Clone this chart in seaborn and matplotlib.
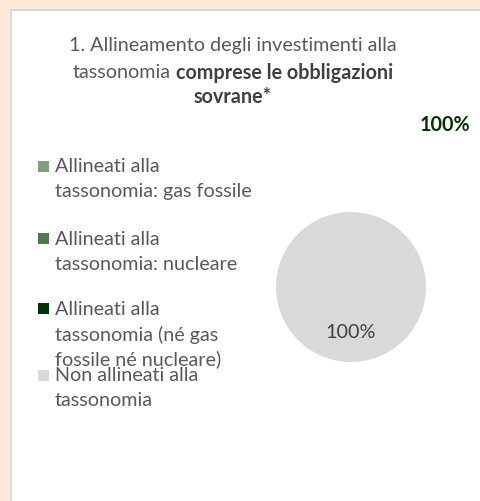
import matplotlib
matplotlib.use("Agg")
import matplotlib.pyplot as plt
from matplotlib.patches import Rectangle
import seaborn as sns

# Portfolio breakdown (percent of investments), sovereign bonds included
categories = [
    "Allineati alla tassonomia: gas fossile",
    "Allineati alla tassonomia: nucleare",
    "Allineati alla tassonomia (né gas fossile né nucleare)",
    "Non allineati alla tassonomia",
]
legend_lines = [
    ["Allineati alla", "tassonomia: gas fossile"],
    ["Allineati alla", "tassonomia: nucleare"],
    ["Allineati alla", "tassonomia (né gas", "fossile né nucleare)"],
    ["Non allineati alla", "tassonomia"],
]
shares = [0, 0, 0, 100]
colors = ["#7F9F7F", "#4E7A4E", "#003300", "#D9D9D9"]
headline_share = 100

title_line1 = "1. Allineamento degli investimenti alla"
title_line2_regular = "tassonomia"
title_line2_bold = "comprese le obbligazioni"
title_line3_bold = "sovrane*"

sns.set_style("white")
plt.rcParams["font.family"] = ["Lato", "DejaVu Sans"]

W, H = 481, 502
fig = plt.figure(figsize=(W / 100, H / 100), dpi=100, facecolor="#FDEADA")


def fx(px):
    return px / W


def fy(py):
    return 1 - py / H


grey = "#595959"
dark = "#404040"
fs = 14.2

# white card with a light border, kept behind everything else
fig.patches.append(Rectangle((fx(11), -0.02), 1.05, fy(11) + 0.02,
                             transform=fig.transFigure, facecolor="white",
                             edgecolor="#D9D9D9", linewidth=1.5, zorder=-5))

renderer = fig.canvas.get_renderer()

# title
fig.text(fx(233), fy(46), title_line1, ha="center", va="center",
         fontsize=fs, color=grey)
t_reg = fig.text(0, fy(73), title_line2_regular, ha="left", va="center",
                 fontsize=fs, color=grey)
t_bold = fig.text(0, fy(73), title_line2_bold, ha="left", va="center",
                  fontsize=fs, color=dark, weight="bold")
probe_a = fig.text(0, 0, "a a", fontsize=fs)
probe_b = fig.text(0, 0, "aa", fontsize=fs)
space_w = (probe_a.get_window_extent(renderer).width
           - probe_b.get_window_extent(renderer).width)
probe_a.remove()
probe_b.remove()
w_reg = t_reg.get_window_extent(renderer).width
w_bold = t_bold.get_window_extent(renderer).width
x0 = 233 - (w_reg + space_w + w_bold) / 2
t_reg.set_x(fx(x0))
t_bold.set_x(fx(x0 + w_reg + space_w))
fig.text(fx(233), fy(97), title_line3_bold, ha="center", va="center",
         fontsize=fs, color=dark, weight="bold")

# headline share
fig.text(fx(470), fy(125), f"{headline_share}%", ha="right", va="center",
         fontsize=fs, color="#003300", weight="bold")

# legend
entry_y = [167, 239.5, 309.5, 376]
line_gap = 25
for lines, color, y in zip(legend_lines, colors, entry_y):
    fig.patches.append(Rectangle((fx(38), fy(y + 5.5)), 11 / W, 11 / H,
                                 transform=fig.transFigure, facecolor=color,
                                 edgecolor="none"))
    for i, line in enumerate(lines):
        fig.text(fx(55), fy(y + i * line_gap), line, ha="left", va="center",
                 fontsize=fs, color=grey)

# pie
cx, cy, r = 351, 288, 75
ax = fig.add_axes([fx(cx - r), fy(cy + r), 2 * r / W, 2 * r / H])
ax.pie(shares, colors=colors, startangle=90, counterclock=False,
       autopct=lambda p: f"{p:.0f}%" if p > 0 else "", pctdistance=0.59,
       wedgeprops=dict(linewidth=0),
       textprops=dict(fontsize=fs, color=dark))
ax.set_xlim(-1, 1)
ax.set_ylim(-1, 1)
ax.axis("off")

fig.savefig("out.png", dpi=100, facecolor=fig.get_facecolor())
